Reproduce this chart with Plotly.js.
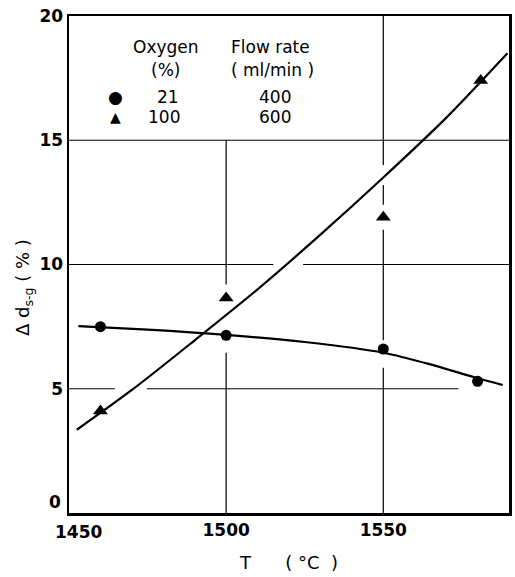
<!DOCTYPE html>
<html>
<head>
<meta charset="utf-8">
<script src="https://cdn.plot.ly/plotly-3.0.1.min.js"></script>
<style>html,body{margin:0;padding:0;background:#fff;}#chart{width:515px;height:577px;}</style>
</head>
<body>
<div id="chart"></div>
<script>
// Measured points
const tempO21 = [1460, 1500, 1550, 1580];
const dO21 = [7.5, 7.15, 6.6, 5.3];
const tempO100 = [1460, 1500, 1550, 1581];
const dO100 = [4.1, 8.65, 11.9, 17.4];

// Hand-drawn fit curves
const curveO21X = [1453, 1475, 1500, 1525, 1550, 1565, 1580, 1588];
const curveO21Y = [7.52, 7.38, 7.17, 6.88, 6.45, 5.98, 5.42, 5.15];
const curveO100X = [1452.5, 1470, 1490, 1510, 1530, 1550, 1570, 1589.5];
const curveO100Y = [3.35, 4.95, 6.95, 9.0, 11.2, 13.5, 15.9, 18.5];

// Axis ticks (the first label on each axis is drawn slightly offset, as in the original)
const xTicks = [1500, 1550];
const xFirstTick = 1450;
const yTicks = [5, 10, 15, 20];
const yFirstTick = 0;

// Grid segments as drawn (broken where the curves/markers cross)
const gridH = [[5, 1450, 1464.6], [5, 1474.8, 1573.9], [10, 1450, 1515], [10, 1524.5, 1590], [15, 1450, 1590]];
const gridV = [[1500, 15, 9.2], [1500, 6.45, 0], [1550, 20, 14.0], [1550, 13.2, 12.4], [1550, 11.4, 6.95], [1550, 5.85, 0]];

const font = 'DejaVu Sans, sans-serif';
const tickFont = {family: font, size: 17, color: '#000', weight: 'bold'};

const traces = [
  {x: curveO21X, y: curveO21Y, mode: 'lines', line: {color: '#000', width: 2.2, shape: 'spline', smoothing: 0.8}, showlegend: false, hoverinfo: 'skip'},
  {x: curveO100X, y: curveO100Y, mode: 'lines', line: {color: '#000', width: 2.2, shape: 'spline', smoothing: 0.8}, showlegend: false, hoverinfo: 'skip'},
  {x: tempO21, y: dO21, mode: 'markers', marker: {symbol: 'circle', size: 11, color: '#000'}, name: '21 %', showlegend: false},
  {x: tempO100, y: dO100, mode: 'markers', marker: {symbol: 'triangle-up', size: 13, color: '#000'}, name: '100 %', showlegend: false}
];

const shapes = [];
gridH.forEach(g => shapes.push({type: 'line', xref: 'x', yref: 'y', x0: g[1], x1: g[2], y0: g[0], y1: g[0], line: {color: '#000', width: 1.2}, layer: 'below'}));
gridV.forEach(g => shapes.push({type: 'line', xref: 'x', yref: 'y', x0: g[0], x1: g[0], y0: g[1], y1: g[2], line: {color: '#000', width: 1.2}, layer: 'below'}));

const px = v => (v - 69) / 440;
const py = v => (513 - v) / 497;
const legFont = {family: font, size: 17, color: '#000'};
const ann = (x, y, text, f) => ({xref: 'paper', yref: 'paper', x: px(x), y: py(y), xanchor: 'center', yanchor: 'middle', text: text, showarrow: false, font: f || legFont});
const annotations = [
  ann(166, 47, 'Oxygen'),
  ann(270, 47, 'Flow rate'),
  ann(165, 70, '(%)'),
  ann(272, 70, '( ml/min )'),
  ann(115, 97, '●', {family: font, size: 17, color: '#000'}),
  ann(115, 117, '▲', {family: font, size: 14, color: '#000'}),
  ann(168, 97, '21'),
  ann(164, 117, '100'),
  ann(275, 97, '400'),
  ann(275, 117, '600'),
  Object.assign(ann(24, 288, 'Δ d<sub>s-g</sub> ( % )', {family: font, size: 18, color: '#000'}), {textangle: -90}),
  {xref: 'paper', yref: 'y', x: 0, y: yFirstTick, xanchor: 'right', yanchor: 'middle', xshift: -6, yshift: 11, text: String(yFirstTick), showarrow: false, font: tickFont},
  {xref: 'x', yref: 'paper', x: xFirstTick, y: 0, xanchor: 'center', yanchor: 'top', xshift: 9, yshift: -7, text: String(xFirstTick), showarrow: false, font: tickFont}
];

const layout = {
  width: 515, height: 577,
  margin: {l: 69, r: 6, t: 16, b: 64},
  paper_bgcolor: '#fff', plot_bgcolor: '#fff',
  showlegend: false,
  xaxis: {
    range: [1450, 1590], tickvals: xTicks, ticktext: xTicks.map(String),
    showgrid: false, zeroline: false, showline: true, mirror: true, linecolor: '#000', linewidth: 2.5,
    ticks: '', tickfont: tickFont,
    title: {text: '\u00a0\u00a0\u00a0T      ( °C  )', font: {family: font, size: 18, color: '#000'}, standoff: 18}
  },
  yaxis: {
    range: [0, 20], tickvals: yTicks, ticktext: yTicks.map(String),
    showgrid: false, zeroline: false, showline: true, mirror: true, linecolor: '#000', linewidth: 2.5,
    ticks: '', tickfont: tickFont
  },
  shapes: shapes,
  annotations: annotations
};

Plotly.newPlot('chart', traces, layout, {displayModeBar: false, staticPlot: true});
</script>
</body>
</html>
